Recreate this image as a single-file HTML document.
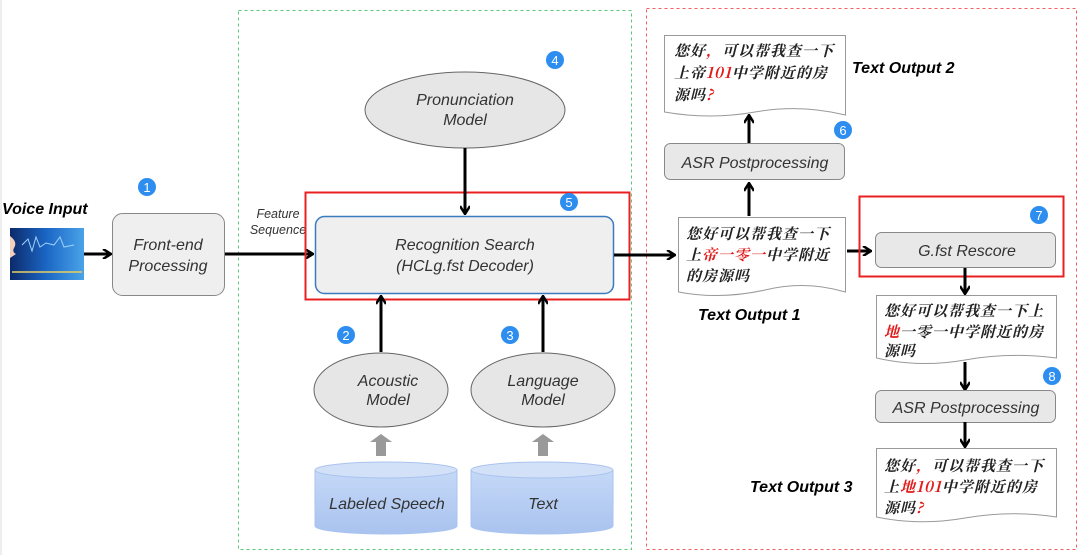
<!DOCTYPE html>
<html><head><meta charset="utf-8"><style>
body{margin:0;background:#fff;}
svg{display:block;font-family:"Liberation Sans","Noto Sans CJK SC",sans-serif;}
.it{font-style:italic;}
.cj{font-family:"Noto Serif CJK SC","Noto Sans CJK SC",serif;font-style:italic;font-weight:bold;font-size:15px;letter-spacing:1px;fill:#222;}
.r{fill:#e21b1b;}
.n{fill:#fff;font-size:13px;text-anchor:middle;}
</style></head><body>
<svg width="1080" height="555" viewBox="0 0 1080 555">
<defs>
<marker id="a" markerWidth="10" markerHeight="10" refX="8" refY="5" orient="auto" markerUnits="userSpaceOnUse"><path d="M1,0 L9,5 L1,10" fill="none" stroke="#000" stroke-width="2.5"/></marker>
<linearGradient id="v" x1="0" y1="0" x2="1" y2="0"><stop offset="0" stop-color="#0c2a6a"/><stop offset="0.5" stop-color="#1b67c6"/><stop offset="1" stop-color="#4aa3e8"/></linearGradient>
<linearGradient id="cy" x1="0" y1="0" x2="0" y2="1"><stop offset="0" stop-color="#c5d8f7"/><stop offset="1" stop-color="#a9c3ef"/></linearGradient>
</defs>
<line x1="1" y1="0" x2="1" y2="555" stroke="#ddd"/>
<rect x="238.5" y="10.5" width="393" height="539" fill="none" stroke="#5cc87a" stroke-dasharray="3,3"/>
<rect x="646.5" y="8.5" width="430" height="541" fill="none" stroke="#f06060" stroke-dasharray="3,3"/>

<text x="2" y="214" font-size="16" font-weight="bold" class="it">Voice Input</text>
<rect x="10" y="228" width="74" height="52" fill="url(#v)"/>
<path d="M10,236 q8,6 4,12 q-2,4 2,6 l-6,4z" fill="#f2d0bc"/>
<path d="M22,245 l6,-6 l4,12 l4,-14 l4,10 l6,-4 l8,2 l6,-8 l4,10 l10,-2" fill="none" stroke="#9fd3ff" stroke-width="1"/>
<path d="M12,272 h70" stroke="#e8d060" stroke-width="1.5"/>
<line x1="84" y1="254" x2="110" y2="254" stroke="#000" stroke-width="3" marker-end="url(#a)"/>
<rect x="112.5" y="213.5" width="112" height="82" rx="10" fill="#efefef" stroke="#888"/>
<text x="168" y="250" font-size="16" text-anchor="middle" class="it" fill="#333">Front-end</text>
<text x="168" y="271" font-size="16" text-anchor="middle" class="it" fill="#333">Processing</text>
<circle cx="147" cy="187" r="9" fill="#2d8ef0"/><text x="147" y="192" class="n">1</text>
<line x1="225" y1="254" x2="312" y2="254" stroke="#000" stroke-width="3" marker-end="url(#a)"/>
<text x="278" y="218" font-size="12.5" text-anchor="middle" class="it" fill="#333">Feature</text>
<text x="278" y="234" font-size="12.5" text-anchor="middle" class="it" fill="#333">Sequence</text>

<rect x="305.5" y="192.5" width="324" height="107" fill="none" stroke="#e82020" stroke-width="2"/>
<rect x="315.5" y="216.5" width="298" height="77" rx="9" fill="#efefef" stroke="#3a7abf" stroke-width="1.5"/>
<text x="465" y="250" font-size="16" text-anchor="middle" class="it" fill="#333">Recognition Search</text>
<text x="465" y="271" font-size="16" text-anchor="middle" class="it" fill="#333">(HCLg.fst Decoder)</text>
<circle cx="569" cy="202" r="9" fill="#2d8ef0"/><text x="569" y="207" class="n">5</text>

<ellipse cx="465" cy="110" rx="100" ry="38" fill="#e6e6e6" stroke="#666"/>
<text x="465" y="105" font-size="16" text-anchor="middle" class="it" fill="#333">Pronunciation</text>
<text x="465" y="125" font-size="16" text-anchor="middle" class="it" fill="#333">Model</text>
<circle cx="555" cy="60" r="9" fill="#2d8ef0"/><text x="555" y="65" class="n">4</text>
<line x1="465" y1="148" x2="465" y2="213" stroke="#000" stroke-width="3" marker-end="url(#a)"/>

<ellipse cx="381" cy="390" rx="67" ry="37" fill="#e6e6e6" stroke="#666"/>
<text x="388" y="386" font-size="16" text-anchor="middle" class="it" fill="#333">Acoustic</text>
<text x="388" y="405" font-size="16" text-anchor="middle" class="it" fill="#333">Model</text>
<ellipse cx="543" cy="390" rx="72" ry="37" fill="#e6e6e6" stroke="#666"/>
<text x="543" y="386" font-size="16" text-anchor="middle" class="it" fill="#333">Language</text>
<text x="543" y="405" font-size="16" text-anchor="middle" class="it" fill="#333">Model</text>
<circle cx="346" cy="335" r="9" fill="#2d8ef0"/><text x="346" y="340" class="n">2</text>
<circle cx="510" cy="335" r="9" fill="#2d8ef0"/><text x="510" y="340" class="n">3</text>
<line x1="381" y1="352" x2="381" y2="297" stroke="#000" stroke-width="3" marker-end="url(#a)"/>
<line x1="543" y1="352" x2="543" y2="297" stroke="#000" stroke-width="3" marker-end="url(#a)"/>
<path d="M370,442 L381,434 L392,442 H386 V456 H376 V442Z" fill="#999"/>
<path d="M532,442 L543,434 L554,442 H548 V456 H538 V442Z" fill="#999"/>
<path d="M315,470 V526 A71,8 0 0 0 457,526 V470" fill="url(#cy)" stroke="#a9c3ef"/>
<ellipse cx="386" cy="470" rx="71" ry="8" fill="#d3e1f8" stroke="#a9c3ef"/>
<path d="M471,470 V526 A71,8 0 0 0 613,526 V470" fill="url(#cy)" stroke="#a9c3ef"/>
<ellipse cx="542" cy="470" rx="71" ry="8" fill="#d3e1f8" stroke="#a9c3ef"/>
<text x="387" y="509" font-size="16" text-anchor="middle" class="it" fill="#333">Labeled Speech</text>
<text x="543" y="509" font-size="16" text-anchor="middle" class="it" fill="#333">Text</text>
<line x1="614" y1="255" x2="674" y2="255" stroke="#000" stroke-width="3" marker-end="url(#a)"/>

<path d="M664.5,35.5 H845.5 V115 Q800,104 755,112 Q710,120 664.5,112 Z" fill="#fff" stroke="#999"/>
<text x="674" y="56" class="cj">您好<tspan class="r">，</tspan>可以帮我查一下</text>
<text x="674" y="78" class="cj">上帝<tspan class="r">101</tspan>中学附近的房</text>
<text x="674" y="100" class="cj">源吗<tspan class="r">?</tspan></text>
<text x="852" y="73" font-size="16" font-weight="bold" class="it">Text Output 2</text>
<line x1="749" y1="143" x2="749" y2="116" stroke="#000" stroke-width="3" marker-end="url(#a)"/>
<rect x="664.5" y="143.5" width="180" height="36" rx="6" fill="#e8e8e8" stroke="#888"/>
<text x="755" y="168" font-size="16" text-anchor="middle" class="it" fill="#333">ASR Postprocessing</text>
<circle cx="843" cy="130" r="9" fill="#2d8ef0"/><text x="843" y="135" class="n">6</text>
<line x1="749" y1="216" x2="749" y2="184" stroke="#000" stroke-width="3" marker-end="url(#a)"/>
<path d="M678.5,217.5 H845.5 V292 Q805,280 765,290 Q720,300 678.5,292 Z" fill="#fff" stroke="#999"/>
<text x="686" y="239" class="cj">您好可以帮我查一下</text>
<text x="686" y="260" class="cj">上<tspan class="r">帝一零一</tspan>中学附近</text>
<text x="686" y="281" class="cj">的房源吗</text>
<text x="698" y="320" font-size="16" font-weight="bold" class="it">Text Output 1</text>
<line x1="847" y1="251" x2="870" y2="251" stroke="#000" stroke-width="3" marker-end="url(#a)"/>
<rect x="859.5" y="196.5" width="204" height="80" fill="none" stroke="#e82020" stroke-width="2"/>
<circle cx="1039" cy="215" r="9" fill="#2d8ef0"/><text x="1039" y="220" class="n">7</text>
<rect x="875.5" y="232.5" width="180" height="35" rx="6" fill="#e8e8e8" stroke="#888"/>
<text x="967" y="256" font-size="16" text-anchor="middle" class="it" fill="#333">G.fst Rescore</text>
<line x1="965" y1="268" x2="965" y2="293" stroke="#000" stroke-width="3" marker-end="url(#a)"/>
<path d="M876.5,295.5 H1056.5 V358 Q1010,352 965,360 Q920,368 876.5,358 Z" fill="#fff" stroke="#999"/>
<text x="884" y="316" class="cj">您好可以帮我查一下上</text>
<text x="884" y="337" class="cj"><tspan class="r">地</tspan>一零一中学附近的房</text>
<text x="884" y="356" class="cj">源吗</text>
<line x1="965" y1="362" x2="965" y2="389" stroke="#000" stroke-width="3" marker-end="url(#a)"/>
<circle cx="1052" cy="376" r="9" fill="#2d8ef0"/><text x="1052" y="381" class="n">8</text>
<rect x="875.5" y="390.5" width="180" height="32" rx="6" fill="#e8e8e8" stroke="#888"/>
<text x="966" y="413" font-size="16" text-anchor="middle" class="it" fill="#333">ASR Postprocessing</text>
<line x1="965" y1="422" x2="965" y2="446" stroke="#000" stroke-width="3" marker-end="url(#a)"/>
<path d="M876.5,448.5 H1056.5 V517 Q1010,510 965,518 Q920,526 876.5,517 Z" fill="#fff" stroke="#999"/>
<text x="884" y="471" class="cj">您好<tspan class="r">，</tspan>可以帮我查一下</text>
<text x="884" y="492" class="cj">上<tspan class="r">地101</tspan>中学附近的房</text>
<text x="884" y="513" class="cj">源吗<tspan class="r">?</tspan></text>
<text x="750" y="492" font-size="16" font-weight="bold" class="it">Text Output 3</text>
</svg>
</body></html>
